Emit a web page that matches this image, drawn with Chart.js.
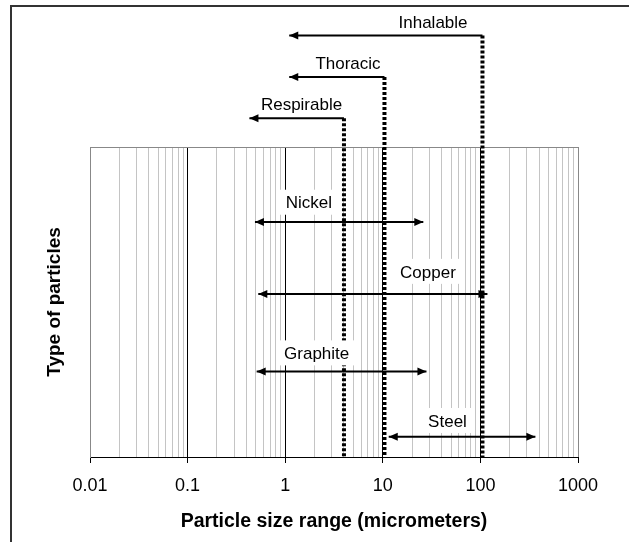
<!DOCTYPE html>
<html>
<head>
<meta charset="utf-8">
<script src="https://cdn.jsdelivr.net/npm/chart.js@4.4.0/dist/chart.umd.min.js"></script>
<style>
  html, body { margin: 0; padding: 0; background: #fff; }
</style>
</head>
<body>
<canvas id="sizeChart" width="629" height="542"></canvas>
<script>
// particle types and their size ranges (micrometers)
const particles = ['Nickel', 'Copper', 'Graphite', 'Steel'];
const sizeMin = [0.49, 0.53, 0.51, 11.5];
const sizeMax = [26, 118, 28, 366];
const rowLevel = [7.58, 5.26, 2.76, 0.65];
// where each particle name sits (size, level)
const particleLabelX = [1.75, 29, 2.1, 46];
const particleLabelY = [8.17, 5.94, 3.31, 1.13];

// sampling fractions: cut size and how far the arrow points down the scale
const fractions = ['Inhalable', 'Thoracic', 'Respirable'];
const cutSize = [105, 10.4, 4];
const reachDown = [1.1, 1.1, 0.43];
const fractionLevel = [13.6, 12.26, 10.93];
const fractionLabelX = [32.7, 4.4, 1.47];
const fractionLabelY = [14.0, 12.67, 11.35];

const decades = [0.01, 0.1, 1, 10, 100, 1000];
// log grid: every 1..9 step inside each decade
const gridValues = [];
decades.forEach((d, i) => {
  if (i === decades.length - 1) { gridValues.push(d); return; }
  for (let k = 1; k <= 9; k++) gridValues.push(+(d * k).toPrecision(3));
});

const FONT = '"Liberation Sans", Arial, sans-serif';
Chart.defaults.font.family = FONT;
Chart.defaults.color = '#000';

const datasets = [];
fractions.forEach((name, i) => {
  // dotted cut-off line down to the axis
  datasets.push({
    label: name + ' cut',
    data: [{ x: cutSize[i], y: fractionLevel[i] }, { x: cutSize[i], y: 0 }],
    showLine: true,
    borderColor: '#000',
    borderWidth: 4,
    borderDash: [3, 2],
    borderCapStyle: 'butt',
    pointRadius: 0,
    clip: false
  });
  // arrow pointing to the smaller sizes
  datasets.push({
    label: name,
    data: [{ x: reachDown[i], y: fractionLevel[i] }, { x: cutSize[i], y: fractionLevel[i] }],
    showLine: true,
    borderColor: '#000',
    borderWidth: 2,
    borderCapStyle: 'butt',
    pointRadius: 0,
    clip: false
  });
});
particles.forEach((name, i) => {
  datasets.push({
    label: name,
    data: [{ x: sizeMin[i], y: rowLevel[i] }, { x: sizeMax[i], y: rowLevel[i] }],
    showLine: true,
    borderColor: '#000',
    borderWidth: 2,
    borderCapStyle: 'butt',
    pointRadius: 0,
    clip: false
  });
});

function arrowHead(ctx, x, y, dir) {
  const len = 9, half = 4;
  ctx.beginPath();
  ctx.moveTo(x, y);
  ctx.lineTo(x - dir * len, y - half);
  ctx.lineTo(x - dir * len, y + half);
  ctx.closePath();
  ctx.fill();
}

const frame = {
  id: 'frame',
  beforeDraw(chart) {
    const ctx = chart.ctx;
    ctx.save();
    ctx.strokeStyle = '#333';
    ctx.lineWidth = 2;
    ctx.beginPath();
    ctx.moveTo(11, chart.height + 10);
    ctx.lineTo(11, 6);
    ctx.lineTo(chart.width + 10, 6);
    ctx.stroke();
    ctx.restore();
  }
};

// names with white boxes on top of the lines, plus the arrow heads
const annotations = {
  id: 'annotations',
  afterDatasetsDraw(chart) {
    const { ctx, scales: { x, y } } = chart;
    ctx.save();
    ctx.font = '17px ' + FONT;
    ctx.textAlign = 'center';
    ctx.textBaseline = 'middle';
    particles.forEach((name, i) => {
      const px = x.getPixelForValue(particleLabelX[i]);
      const py = y.getPixelForValue(particleLabelY[i]);
      const w = ctx.measureText(name).width;
      ctx.fillStyle = '#fff';
      ctx.fillRect(px - w / 2 - 6, py - 14, w + 12, 25);
      ctx.fillStyle = '#000';
      ctx.fillText(name, px, py);
    });
    fractions.forEach((name, i) => {
      ctx.fillText(name, x.getPixelForValue(fractionLabelX[i]), y.getPixelForValue(fractionLabelY[i]));
    });

    particles.forEach((name, i) => {
      const py = y.getPixelForValue(rowLevel[i]);
      arrowHead(ctx, x.getPixelForValue(sizeMin[i]), py, -1);
      arrowHead(ctx, x.getPixelForValue(sizeMax[i]), py, 1);
    });
    fractions.forEach((name, i) => {
      arrowHead(ctx, x.getPixelForValue(reachDown[i]), y.getPixelForValue(fractionLevel[i]), -1);
    });
    ctx.restore();
  }
};

const isDecade = v => decades.includes(v);

new Chart(document.getElementById('sizeChart'), {
  type: 'scatter',
  data: { datasets },
  options: {
    responsive: false,
    animation: false,
    layout: { padding: { top: 147, right: 51, bottom: 0, left: 0 } },
    plugins: {
      legend: { display: false },
      tooltip: { enabled: false }
    },
    scales: {
      x: {
        type: 'logarithmic',
        min: 0.01,
        max: 1000,
        afterBuildTicks: s => { s.ticks = gridValues.map(v => ({ value: v })); },
        afterFit: s => { s.height = 85; },
        grid: {
          color: ctx => {
            const v = ctx.tick && ctx.tick.value;
            if (v === 0.01 || v === 1000) return '#888';
            return isDecade(v) ? '#000' : '#c4c4c4';
          },
          lineWidth: 1,
          tickLength: 6,
          tickColor: ctx => (ctx.tick && isDecade(ctx.tick.value)) ? '#000' : 'rgba(0,0,0,0)'
        },
        border: { color: '#000', width: 1 },
        ticks: {
          autoSkip: false,
          maxRotation: 0,
          minRotation: 0,
          padding: 12,
          font: { size: 18 },
          callback: v => isDecade(v) ? String(v) : ''
        },
        title: {
          display: true,
          text: 'Particle size range (micrometers)',
          font: { size: 19.5, weight: 'bold' },
          padding: { top: 0, bottom: 9 }
        }
      },
      y: {
        type: 'linear',
        min: 0,
        max: 10,
        afterBuildTicks: s => { s.ticks = [{ value: 10 }]; },
        afterFit: s => { s.width = 90; },
        grid: { color: '#888', drawTicks: false },
        border: { color: '#888' },
        ticks: { display: false },
        title: {
          display: true,
          text: 'Type of particles',
          font: { size: 19, weight: 'bold' },
          padding: { top: 43, bottom: 0 }
        }
      }
    }
  },
  plugins: [frame, annotations]
});
</script>
</body>
</html>
